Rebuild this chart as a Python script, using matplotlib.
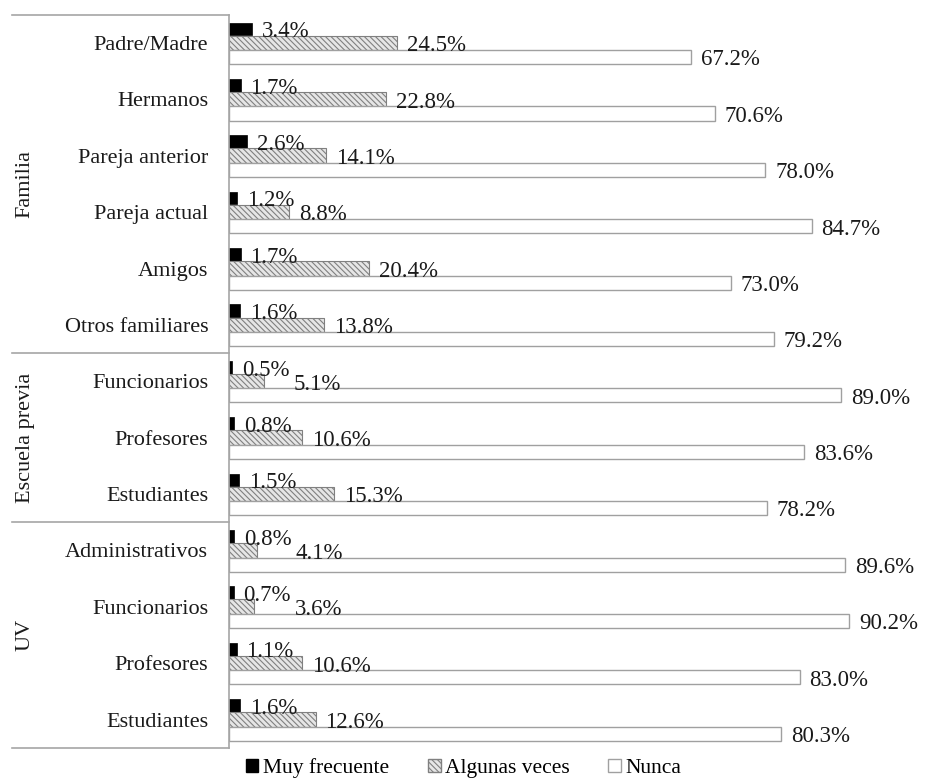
import numpy as np
import matplotlib
matplotlib.use('Agg')
import matplotlib.pyplot as plt
from matplotlib.patches import Patch

plt.rcParams['font.family'] = ['Liberation Serif', 'DejaVu Serif']
plt.rcParams['hatch.linewidth'] = 0.8

# Data
categories = ['Padre/Madre', 'Hermanos', 'Pareja anterior', 'Pareja actual', 'Amigos',
              'Otros familiares', 'Funcionarios', 'Profesores', 'Estudiantes',
              'Administrativos', 'Funcionarios', 'Profesores', 'Estudiantes']
muy_frecuente = [3.4, 1.7, 2.6, 1.2, 1.7, 1.6, 0.5, 0.8, 1.5, 0.8, 0.7, 1.1, 1.6]
algunas_veces = [24.5, 22.8, 14.1, 8.8, 20.4, 13.8, 5.1, 10.6, 15.3, 4.1, 3.6, 10.6, 12.6]
nunca = [67.2, 70.6, 78.0, 84.7, 73.0, 79.2, 89.0, 83.6, 78.2, 89.6, 90.2, 83.0, 80.3]
series_names = ['Muy frecuente', 'Algunas veces', 'Nunca']
groups = ['Familia', 'Escuela previa', 'UV']
group_sizes = [6, 3, 4]

DPI = 100
fig = plt.figure(figsize=(9.27, 7.79), dpi=DPI)
ax = fig.add_axes([0.247, 0.040, 0.742, 0.941])

y = np.arange(len(categories))
h = 0.25
line_gray = '#a6a6a6'
text_col = '#1a1a1a'

b1 = ax.barh(y - h, muy_frecuente, height=h * 0.9, color='black', edgecolor='black', linewidth=0.5)
b2 = ax.barh(y, algunas_veces, height=h * 1.05, color='#e6e6e6', edgecolor='#808080',
             hatch='\\\\\\\\\\\\', linewidth=0.8)
b3 = ax.barh(y + h, nunca, height=h, color='white', edgecolor='#a0a0a0', linewidth=1.0)

labels = []
for bars, vals in [(b1, muy_frecuente), (b2, algunas_veces), (b3, nunca)]:
    row = []
    for bar, v in zip(bars, vals):
        t = ax.annotate(f'{v:.1f}%', (bar.get_width(), bar.get_y() + bar.get_height() / 2),
                        xytext=(7, -2), textcoords='offset points', va='center', ha='left',
                        fontsize=16.5, color=text_col)
        row.append(t)
    labels.append(row)

ax.set_xlim(0, 100)
ax.set_ylim(len(categories) - 0.5, -0.5)
ax.set_yticks(y)
ax.set_yticklabels(categories, fontsize=16, color=text_col)
ax.tick_params(axis='y', length=0, pad=15)
ax.set_xticks([])
for s in ['top', 'right', 'bottom']:
    ax.spines[s].set_visible(False)
ax.spines['left'].set_color(line_gray)
ax.spines['left'].set_linewidth(1.2)

# group separators and labels
trans = ax.get_yaxis_transform()
bounds = np.concatenate([[0], np.cumsum(group_sizes)]) - 0.5
for b in bounds:
    ax.plot([-0.315, 0], [b, b], color=line_gray, lw=1.2, transform=trans, clip_on=False)
for g, lo, hi in zip(groups, bounds[:-1], bounds[1:]):
    ax.text(-0.296, (lo + hi) / 2, g, rotation=90, va='center', ha='center',
            fontsize=16, color=text_col, transform=trans)

# push hatched-bar labels right when they would run into the black-bar label
fig.canvas.draw()
r = fig.canvas.get_renderer()
for tb, th in zip(labels[0], labels[1]):
    eb = tb.get_window_extent(r)
    eh = th.get_window_extent(r)
    if eh.x0 < eb.x1 + 4:
        shift = (eb.x1 + 4 - eh.x0) * 72 / DPI
        th.set_position((7 + shift, -2))

handles = [Patch(facecolor='black', edgecolor='black'),
           Patch(facecolor='#e6e6e6', edgecolor='#808080', hatch='\\\\\\\\\\\\'),
           Patch(facecolor='white', edgecolor='#a0a0a0')]
fig.legend(handles, series_names, loc='center', bbox_to_anchor=(0.5, 0.014), ncol=3,
           frameon=False, fontsize=15.5, handlelength=0.6, handleheight=0.6,
           handletextpad=0.2, columnspacing=1.8)

fig.savefig('out.png', dpi=DPI, facecolor='white')
